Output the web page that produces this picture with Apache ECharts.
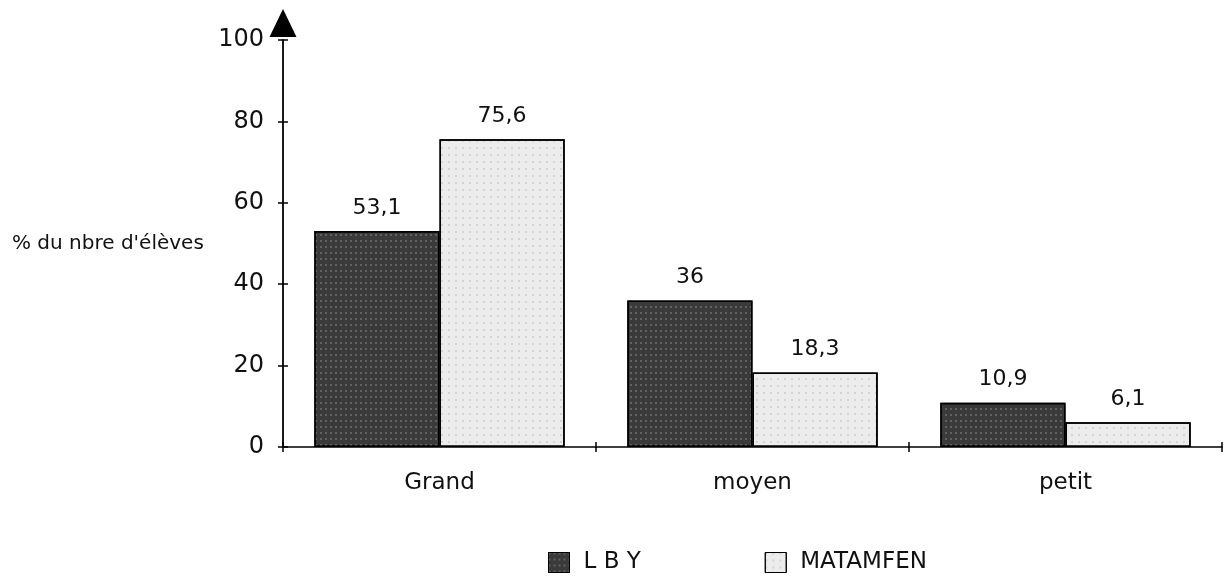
<!DOCTYPE html>
<html><head><meta charset="utf-8">
<style>html,body{margin:0;padding:0;background:#fff}#c{width:1224px;height:579px}</style>
<script src="https://cdn.jsdelivr.net/npm/echarts@6/dist/echarts.min.js"></script>
</head><body><div id="c"></div>
<script>
var categories = ['Grand', 'moyen', 'petit'];
var lbyValues = [53.1, 36, 10.9];
var matamfenValues = [75.6, 18.3, 6.1];
var yTicks = [0, 20, 40, 60, 80, 100];
var seriesNames = ['L B Y', 'MATAMFEN'];
var yAxisTitle = "% du nbre d'élèves";

var chart = echarts.init(document.getElementById('c'));
var font = '"DejaVu Sans", Arial, Helvetica, sans-serif';
function fmt(p){ return String(p.value).replace('.', ','); }
chart.setOption({
  animation: false,
  backgroundColor: '#fff',
  grid: { left: 283, right: 2, top: 40, bottom: 132 },
  legend: {
    top: 551, left: 548, padding: 0, itemGap: 124, icon: 'rect', itemWidth: 21, itemHeight: 20,
    textStyle: { fontFamily: font, fontSize: 23, color: '#111', padding: [0, 0, 0, 9] },
    itemStyle: { borderColor: '#000', borderWidth: 1 },
    data: seriesNames
  },
  xAxis: [{
    type: 'category', data: categories, boundaryGap: true,
    axisLine: { lineStyle: { color: '#000', width: 1.5 } },
    axisTick: { show: true, length: 5, lineStyle: { color: '#000', width: 1.5 } },
    axisLabel: { fontFamily: font, fontSize: 23, color: '#111', margin: 25 }
  }, {
    type: 'category', data: categories, boundaryGap: true, position: 'bottom',
    axisLine: { show: false },
    axisTick: { show: true, inside: true, length: 5, lineStyle: { color: '#000', width: 1.5 } },
    axisLabel: { show: false }
  }],
  yAxis: [{
    type: 'value', min: 0, max: 100, interval: 20,
    name: yAxisTitle, nameLocation: 'middle', nameRotate: 0, nameGap: 271,
    nameTextStyle: { fontFamily: font, fontSize: 20, color: '#111', align: 'left', verticalAlign: 'middle', padding: [0, 0, 8, 0] },
    splitLine: { show: false },
    axisLine: { show: true, symbol: ['none', 'triangle'], symbolSize: [27, 28], symbolOffset: [0, 17], lineStyle: { color: '#000', width: 1.8 } },
    axisTick: { show: true, length: 5, lineStyle: { color: '#000', width: 1.5 } },
    axisLabel: { fontFamily: font, fontSize: 24, color: '#111', margin: 19, customValues: yTicks }
  }, {
    type: 'value', min: 0, max: 100, interval: 20, position: 'left',
    splitLine: { show: false },
    axisLine: { show: false },
    axisTick: { show: true, inside: true, length: 5, lineStyle: { color: '#000', width: 1.5 } },
    axisLabel: { show: false }
  }],
  series: [
    { name: seriesNames[0], type: 'bar', data: lbyValues, barGap: '0%', barCategoryGap: '20%',
      itemStyle: { color: '#3a3a3a', borderColor: '#000', borderWidth: 1.5,
        decal: { symbol: 'rect', color: 'rgba(255,255,255,0.4)', symbolSize: 0.7, dashArrayX: [2, 3], dashArrayY: [2, 4], rotation: 0 } },
      label: { show: true, position: 'top', distance: 12, fontFamily: font, fontSize: 22, color: '#111', formatter: fmt } },
    { name: seriesNames[1], type: 'bar', data: matamfenValues,
      itemStyle: { color: '#ececec', borderColor: '#000', borderWidth: 1.5,
        decal: { symbol: 'rect', color: 'rgba(80,80,80,0.3)', symbolSize: 0.7, dashArrayX: [2, 5], dashArrayY: [2, 5], rotation: 0 } },
      label: { show: true, position: 'top', distance: 12, fontFamily: font, fontSize: 22, color: '#111', formatter: fmt } }
  ]
});
</script></body></html>
